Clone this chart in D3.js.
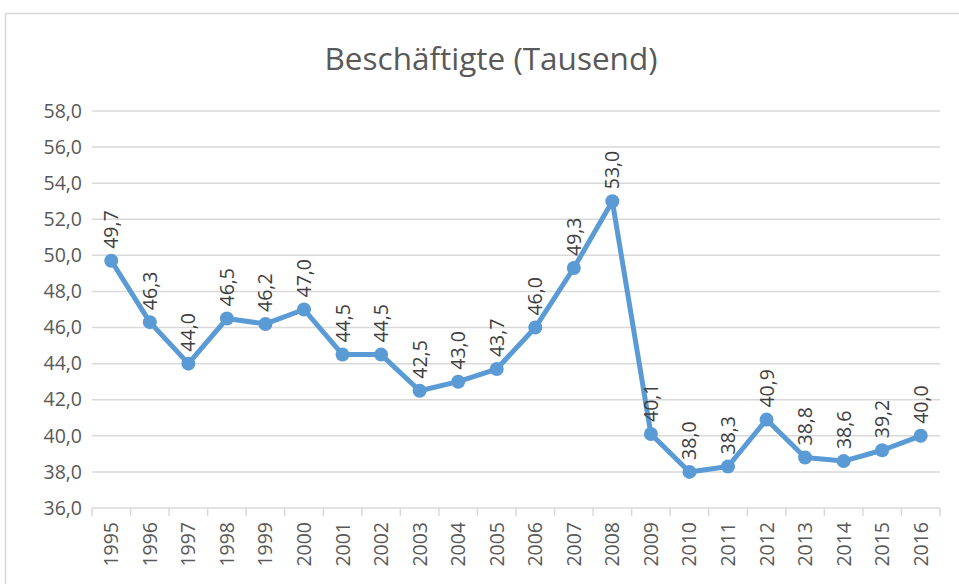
<!DOCTYPE html>
<html><head><meta charset="utf-8">
<script src="https://cdn.jsdelivr.net/npm/d3@7"></script>
<style>
html,body{margin:0;padding:0;background:#fff;}
svg{display:block;font-family:"Open Sans","Liberation Sans",sans-serif;}
</style></head>
<body><svg id="c" width="959" height="584"></svg>
<script>
const title = "Beschäftigte (Tausend)";
const years = ["1995","1996","1997","1998","1999","2000","2001","2002","2003","2004","2005","2006","2007","2008","2009","2010","2011","2012","2013","2014","2015","2016"];
const values = [49.7,46.3,44.0,46.5,46.2,47.0,44.5,44.5,42.5,43.0,43.7,46.0,49.3,53.0,40.1,38.0,38.3,40.9,38.8,38.6,39.2,40.0];
const yTicks = [36,38,40,42,44,46,48,50,52,54,56,58];

const svg = d3.select("#c");
const fmt = v => d3.format(".1f")(v).replace(".", ",");
const FS = 19.5;

// outer frame
svg.append("path").attr("d","M5.5,584 L5.5,13.5 L959,13.5").attr("fill","none").attr("stroke","#d9d9d9").attr("stroke-width",1.5);

const m = {left:92, right:940, top:111, bottom:508};
const x = d3.scaleBand().domain(years).range([m.left, m.right]);
const y = d3.scaleLinear().domain([36,58]).range([m.bottom, m.top]);

svg.append("text").attr("x",491).attr("y",70).attr("text-anchor","middle")
  .attr("font-size",31.5).attr("fill","#595959").text(title);

// grid
const g = svg.append("g");
g.selectAll("line.grid").data(yTicks.filter(d=>d>36)).join("line")
  .attr("x1",m.left).attr("x2",m.right).attr("y1",d=>y(d)).attr("y2",d=>y(d))
  .attr("stroke","#d9d9d9").attr("stroke-width",1.5);

// y axis labels
const ya = svg.append("g").attr("transform",`translate(${m.left},0)`)
  .call(d3.axisLeft(y).tickValues(yTicks).tickFormat(fmt).tickSize(0).tickPadding(10));
ya.select(".domain").remove();
ya.selectAll("text").attr("font-size",FS).attr("fill","#595959").attr("font-family",'"Open Sans","Liberation Sans",sans-serif');

// x axis
svg.append("line").attr("x1",m.left).attr("x2",m.right).attr("y1",m.bottom).attr("y2",m.bottom)
  .attr("stroke","#d9d9d9").attr("stroke-width",1.5);
const bounds = years.map(d=>x(d)).concat([m.right]);
svg.selectAll("line.xt").data(bounds).join("line")
  .attr("x1",d=>d).attr("x2",d=>d).attr("y1",m.bottom).attr("y2",m.bottom+8)
  .attr("stroke","#d9d9d9").attr("stroke-width",1.5);
svg.selectAll("text.xl").data(years).join("text")
  .attr("transform",d=>`translate(${x(d)+x.bandwidth()/2+7},${m.bottom+14}) rotate(-90)`)
  .attr("text-anchor","end").attr("font-size",FS).attr("fill","#595959").text(d=>d);

// line
const cx = (d,i)=>x(years[i])+x.bandwidth()/2;
svg.append("path").datum(values)
  .attr("d", d3.line().x((d,i)=>cx(d,i)).y(d=>y(d)))
  .attr("fill","none").attr("stroke","#5B9BD5").attr("stroke-width",5).attr("stroke-linejoin","round");
svg.selectAll("circle.pt").data(values).join("circle")
  .attr("cx",(d,i)=>cx(d,i)).attr("cy",d=>y(d)).attr("r",7).attr("fill","#5B9BD5");

// data labels
svg.selectAll("text.dl").data(values).join("text")
  .attr("transform",(d,i)=>`translate(${cx(d,i)+7},${y(d)-12}) rotate(-90)`)
  .attr("text-anchor","start").attr("font-size",FS).attr("fill","#404040").text(d=>fmt(d));
</script></body></html>
